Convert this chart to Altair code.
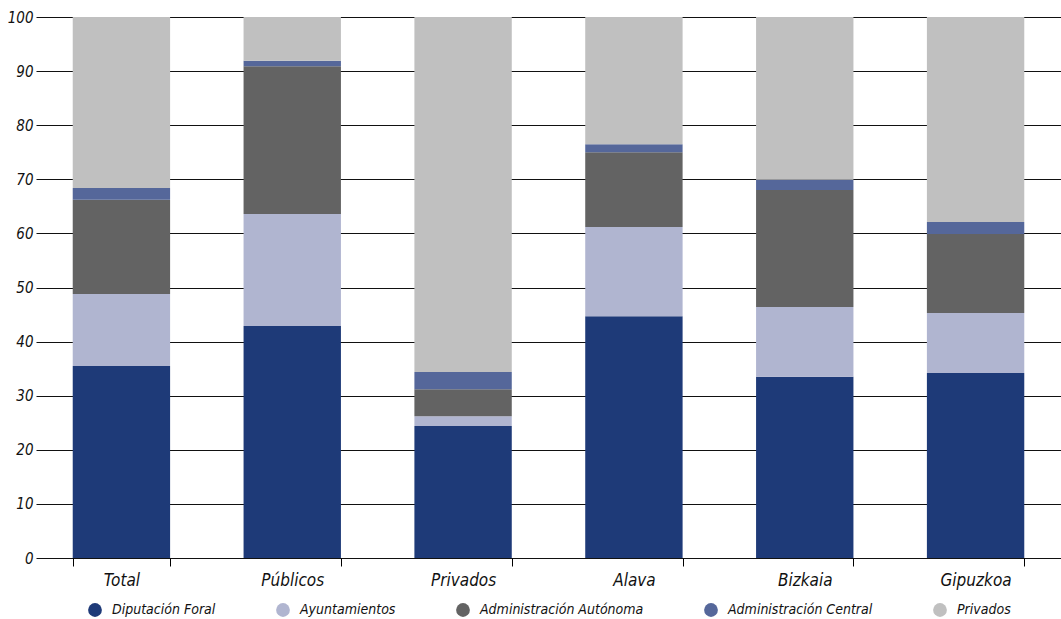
import altair as alt
import pandas as pd

categories = ["Total", "Públicos", "Privados", "Alava", "Bizkaia", "Gipuzkoa"]
series = ["Diputación Foral", "Ayuntamientos", "Administración Autónoma", "Administración Central", "Privados"]
colors = ["#1e3a78", "#b0b5d0", "#636363", "#55679a", "#c0c0c0"]

diputacion = [35.5, 42.9, 24.4, 44.7, 33.5, 34.2]
ayuntamientos = [13.3, 20.7, 1.8, 16.5, 12.9, 11.1]
autonoma = [17.4, 27.3, 5.0, 13.8, 21.6, 14.6]
central = [2.2, 1.0, 3.2, 1.5, 1.9, 2.2]
privados = [31.6, 8.1, 65.6, 23.5, 30.1, 37.9]

rows = []
for i, c in enumerate(categories):
    for j, (s, vals) in enumerate(zip(series, [diputacion, ayuntamientos, autonoma, central, privados])):
        rows.append({"cat": c, "serie": s, "valor": vals[i], "orden": j})
df = pd.DataFrame(rows)

FONT = "Liberation Sans Narrow, DejaVu Sans Condensed, sans-serif"

chart = alt.Chart(df).mark_bar().encode(
    x=alt.X("cat:N", sort=categories, title=None,
            scale=alt.Scale(paddingInner=0.43, paddingOuter=0.215),
            axis=alt.Axis(labelAngle=0, tickBand="extent", ticks=True, tickSize=8,
                          tickColor="#000", domain=False, grid=False,
                          labelFontSize=17, labelPadding=6, labelColor="#111")),
    y=alt.Y("valor:Q", stack="zero", title=None,
            scale=alt.Scale(domain=[0, 100], nice=False),
            axis=alt.Axis(values=list(range(0, 101, 10)), grid=True, gridColor="#111",
                          gridWidth=1.2, ticks=False, domain=False, labelPadding=3,
                          labelFontSize=15, labelColor="#111")),
    color=alt.Color("serie:N", sort=series,
                    scale=alt.Scale(domain=series, range=colors),
                    legend=alt.Legend(title=None, orient="none", direction="horizontal",
                                      legendX=52, legendY=586, symbolType="circle",
                                      symbolSize=190, symbolStrokeWidth=0,
                                      labelFontSize=14, columnPadding=60,
                                      labelOffset=10, labelLimit=400)),
    order=alt.Order("orden:Q", sort="ascending"),
).properties(
    width=1025, height=541,
    padding={"left": 36, "top": 17, "right": 0, "bottom": 61},
    autosize=alt.AutoSizeParams(type="none"),
).configure_axis(
    labelFont=FONT, labelFontStyle="italic"
).configure_legend(
    labelFont=FONT, labelFontStyle="italic", labelColor="#111"
).configure_view(stroke=None)

chart.save("out.html", embed_options={"renderer": "svg", "actions": False})
